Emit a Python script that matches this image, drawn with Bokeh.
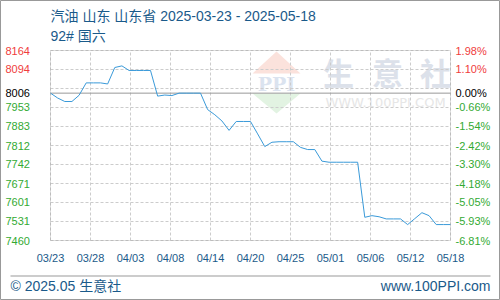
import numpy as np
from bokeh.plotting import figure
from bokeh.models import (Range1d, Label, BoxAnnotation, PolyAnnotation, ColumnDataSource)
from bokeh.embed import file_html
from bokeh.resources import INLINE

W, H = 500, 300

# ---- data ----
title_line1 = "汽油 山东 山东省 2025-03-23 - 2025-05-18"
title_line2 = "92# 国六"
footer_left = "© 2025.05 生意社"
footer_right = "www.100PPI.com"

# daily prices 2025-03-23 .. 2025-05-18 (57 days)
prices = [8006, 7988, 7975, 7975, 7998, 8044, 8044, 8044, 8040, 8101,
          8107, 8090, 8090, 8090, 8090, 7995, 7999, 7997, 8006, 8006,
          8006, 8006, 7945, 7926, 7903, 7868, 7901, 7901, 7901, 7855,
          7808, 7824, 7826, 7826, 7826, 7805, 7797, 7797, 7754, 7750,
          7750, 7750, 7750, 7750, 7546, 7552, 7548, 7540, 7540, 7540,
          7519, 7541, 7563, 7552, 7519, 7519, 7519]
days = list(range(len(prices)))

base_price = 8006
y_min, y_max = 7460, 8164
left_labels = ["8164", "8094", "8006", "7953", "7883", "7812", "7742", "7671", "7601", "7531", "7460"]
left_label_values = [8164, 8094, 8006, 7953, 7883, 7812, 7742, 7671, 7601, 7531, 7460]
right_labels = ["1.98%", "1.10%", "0.00%", "-0.66%", "-1.54%", "-2.42%", "-3.30%", "-4.18%", "-5.05%", "-5.93%", "-6.81%"]
x_tick_labels = ["03/23", "03/28", "04/03", "04/08", "04/14", "04/20", "04/25", "05/01", "05/06", "05/12", "05/18"]

# ---- styles / layout ----
RED = "#f03c3c"
GREEN = "#33aa33"
BLACK = "#000000"
BLUE_TXT = "#1a5a8a"
LINE = "#3a9ad9"
FONT = "'Liberation Sans', 'Noto Sans CJK SC', sans-serif"
CJK = "'Noto Sans CJK SC', sans-serif"
PL, PR, PT, PB = 50, 450, 50, 240   # plot box in canvas pixels

n_days = days[-1]
x_ticks = list(np.linspace(0, n_days, len(x_tick_labels)))
y_grid = list(np.linspace(y_min, y_max, 11))

# ranges chosen so the data box falls on the plot box while the frame fills the canvas
xs_per_px = n_days / (PR - PL)
ys_per_px = (y_max - y_min) / (PB - PT)
x_range = Range1d(0 - PL * xs_per_px, n_days + (W - PR) * xs_per_px)
y_range = Range1d(y_min - (H - PB) * ys_per_px, y_max + PT * ys_per_px)

p = figure(width=W, height=H, x_range=x_range, y_range=y_range, min_border=0,
           output_backend="svg", toolbar_location=None)
p.xaxis.visible = False
p.yaxis.visible = False
p.xgrid.visible = False
p.ygrid.visible = False
p.background_fill_color = "white"
p.border_fill_color = "white"
p.outline_line_color = "#999999"
p.outline_line_width = 1

# watermark
p.add_layout(PolyAnnotation(xs=[252, 276, 300], ys=[73, 51, 73], xs_units="canvas", ys_units="canvas",
                            fill_color="#fbe2dc", fill_alpha=1, line_color=None, level="underlay"))
p.add_layout(PolyAnnotation(xs=[252, 300, 276], ys=[93, 93, 113], xs_units="canvas", ys_units="canvas",
                            fill_color="#e2f3e2", fill_alpha=1, line_color=None, level="underlay"))
p.add_layout(Label(x=276, y=83, x_units="canvas", y_units="canvas", text="PPI", text_align="center",
                   text_baseline="middle", text_font="'DejaVu Serif', serif", text_font_style="bold",
                   text_font_size="19px", text_color="#dbe3ef", level="underlay"))
for cx, ch in zip([338, 387, 435], "生意社"):
    p.add_layout(Label(x=cx, y=71, x_units="canvas", y_units="canvas", text=ch, text_align="center",
                       text_baseline="middle", text_font=CJK, text_font_style="bold",
                       text_font_size="31px", text_color="#dce1ea", level="underlay"))
p.add_layout(Label(x=385, y=102, x_units="canvas", y_units="canvas", text="WWW.100PPI.COM",
                   text_align="center", text_baseline="middle", text_font="'DejaVu Sans', sans-serif",
                   text_font_size="13px", text_color="#e6e6e6", level="underlay"))

# grid (dashed) inside the plot box
p.segment(x0=x_ticks, x1=x_ticks, y0=[y_min] * len(x_ticks), y1=[y_max] * len(x_ticks),
          line_color="#cccccc", line_dash="3 2", line_width=1)
p.segment(x0=[0] * len(y_grid), x1=[n_days] * len(y_grid), y0=y_grid, y1=y_grid,
          line_color="#cccccc", line_dash="3 2", line_width=1)
# base line
p.segment(x0=[0], x1=[n_days], y0=[base_price], y1=[base_price], line_color="#999999", line_width=1)
# plot box border
p.add_layout(BoxAnnotation(left=0, right=n_days, bottom=y_min, top=y_max, fill_alpha=0,
                           line_color="#999999", line_width=1))

src = ColumnDataSource(dict(x=days, y=prices))
p.line("x", "y", source=src, line_color=LINE, line_width=1)

# y labels
for v, ll, rl in zip(left_label_values, left_labels, right_labels):
    col = RED if v > base_price else (BLACK if v == base_price else GREEN)
    p.add_layout(Label(x=5, x_units="canvas", y=v, text=ll, text_align="left", text_baseline="middle",
                       text_font=FONT, text_font_size="11px", text_color=col))
    p.add_layout(Label(x=455, x_units="canvas", y=v, text=rl, text_align="left", text_baseline="middle",
                       text_font=FONT, text_font_size="11px", text_color=col))

# x labels
for xt, lab in zip(x_ticks, x_tick_labels):
    p.add_layout(Label(x=xt, y=257, y_units="canvas", text=lab, text_align="center", text_baseline="middle",
                       text_font=FONT, text_font_size="11px", text_color=BLUE_TXT))

# titles
p.add_layout(Label(x=50, y=15, x_units="canvas", y_units="canvas", text=title_line1, text_align="left",
                   text_baseline="middle", text_font=FONT, text_font_size="14px", text_color=BLUE_TXT))
p.add_layout(Label(x=50, y=35, x_units="canvas", y_units="canvas", text=title_line2, text_align="left",
                   text_baseline="middle", text_font=FONT, text_font_size="14px", text_color=BLUE_TXT))

# footer
p.add_layout(BoxAnnotation(left=10, right=490, top=275, bottom=276, left_units="canvas",
                           right_units="canvas", top_units="canvas", bottom_units="canvas",
                           fill_color="#999999", fill_alpha=1, line_color=None))
p.add_layout(Label(x=10, y=285, x_units="canvas", y_units="canvas", text=footer_left, text_align="left",
                   text_baseline="middle", text_font=FONT, text_font_size="14px", text_color=BLUE_TXT))
p.add_layout(Label(x=490, y=285, x_units="canvas", y_units="canvas", text=footer_right, text_align="right",
                   text_baseline="middle", text_font=FONT, text_font_size="14px", text_color=BLUE_TXT))

open("out.html", "w").write(file_html(p, INLINE))
